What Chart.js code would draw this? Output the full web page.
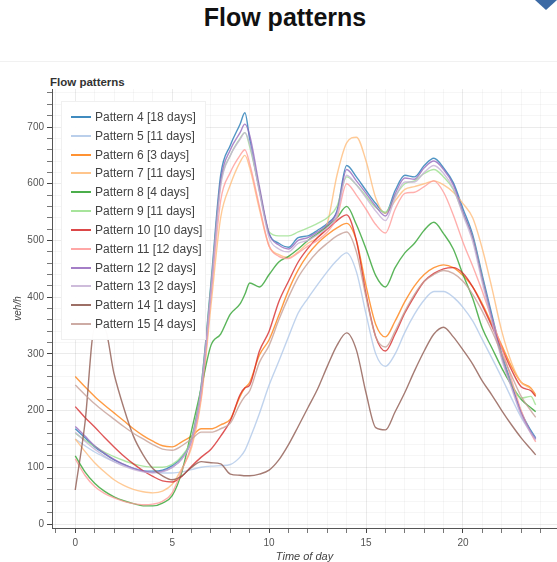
<!DOCTYPE html>
<html>
<head>
<meta charset="utf-8">
<title>Flow patterns</title>
<script src="https://cdn.jsdelivr.net/npm/chart.js@4.4.1/dist/chart.umd.min.js"></script>
<style>
  html, body { margin: 0; padding: 0; background: #fff; }
  body { width: 557px; height: 562px; position: relative; overflow: hidden; font-family: "Liberation Sans", Arial, sans-serif; }
  #chart { position: absolute; left: 0; top: 0; }
  .main-title { position: absolute; left: 0; width: 570px; top: 5px; text-align: center; font-size: 25px; line-height: 25px; font-weight: bold; color: #111; }
  .sub-title { position: absolute; left: 50px; top: 77px; font-size: 11.5px; line-height: 11px; font-weight: bold; color: #333; }
  .frame-line { position: absolute; left: 0; top: 61px; width: 557px; height: 1px; background: #f1f1f1; }
  .corner { position: absolute; left: 535px; top: 0; width: 22px; height: 10px; background: #3c6aa5; clip-path: polygon(0 0, 100% 0, 50% 100%); }
  #legend { position: absolute; left: 61px; top: 101px; width: 145px; height: 239px; background: rgba(255,255,255,0.97); border: 1px solid #f0f0f0; box-sizing: border-box; }
  .item { position: absolute; left: 0; height: 18px; line-height: 18px; font-size: 12px; color: #444; white-space: nowrap; }
  .item .swatch { position: absolute; left: 9px; top: 8px; width: 20px; height: 0; border-top: 2px solid; }
  .item .txt { position: absolute; left: 33px; top: 0; }
</style>
</head>
<body>
<div class="frame-line"></div>
<div class="corner"></div>
<div class="main-title">Flow patterns</div>
<div class="sub-title">Flow patterns</div>
<canvas id="chart" width="557" height="562"></canvas>
<div id="legend"></div>
<script>
// time of day (hours)
const hours = [0,0.5,1,1.5,2,2.5,3,3.5,4,4.5, 5,5.5,6,6.5,7,7.5,8,8.5,8.75,9,
               9.5,10,10.5,11,11.5,12,12.5,13,13.5,14, 14.5,15,15.5,16,16.5,17,17.5,18,18.5,19,
               19.5,20,20.5,21,21.5,22,22.5,23,23.5,23.75];

// veh/h per pattern
const pattern4  = [168,152,136,124,113,105,98,94,93,95, 103,118,150,245,425,615,668,705,725,678,
                   588,512,495,488,505,508,518,530,552,632, 612,588,565,548,588,615,612,632,645,628,
                   602,556,510,438,368,300,248,198,165,152];
const pattern5  = [150,138,127,118,110,104,98,94,92,90, 90,92,96,100,102,103,105,118,130,150,
                   195,245,287,330,372,398,422,445,465,478, 445,370,300,278,300,338,370,395,410,410,
                   400,382,358,325,292,258,222,188,162,150];
const pattern6  = [260,242,225,210,196,182,168,156,146,138, 136,145,155,168,168,175,185,225,240,250,
                   298,325,368,412,448,475,495,510,522,530, 500,420,352,330,358,392,420,440,452,457,
                   452,438,418,388,352,315,278,250,240,228];
const pattern7  = [150,128,108,92,78,68,61,57,55,58, 70,98,135,220,385,540,598,638,650,628,
                   555,490,475,470,480,495,505,530,615,672, 682,640,575,548,570,590,595,600,605,598,
                   585,565,540,485,415,340,285,250,238,225];
const pattern8  = [120,92,72,58,48,41,36,32,32,37, 50,92,165,240,315,335,370,388,405,425,
                   418,440,462,472,485,500,512,525,540,560, 528,485,438,418,452,478,495,518,532,512,
                   485,440,398,345,310,275,245,220,205,198];
const pattern9  = [160,148,137,127,119,112,106,102,100,100, 105,120,152,245,420,600,650,680,690,665,
                   590,515,508,508,515,522,530,540,560,612, 598,578,558,550,578,600,605,618,625,612,
                   590,548,505,432,360,295,248,222,225,210];
const pattern10 = [207,188,171,153,136,120,106,94,84,76, 74,84,102,118,132,155,182,228,240,245,
                   305,340,392,428,462,486,505,520,535,545, 500,405,330,305,335,372,402,428,442,450,
                   452,442,418,385,348,310,272,242,235,225];
const pattern11 = [115,86,66,54,46,40,36,34,35,40, 55,95,140,225,400,570,620,650,660,635,
                   560,490,472,468,478,490,500,515,540,600, 580,555,528,513,555,583,585,595,605,585,
                   545,497,455,410,360,310,255,200,160,145];
const pattern12 = [172,155,138,125,114,105,98,93,91,93, 100,115,148,240,415,605,660,690,705,685,
                   595,512,492,485,500,505,515,527,550,625, 605,583,560,543,582,610,608,628,640,625,
                   598,550,505,432,362,295,244,195,162,150];
const pattern13 = [162,146,132,120,110,102,96,92,90,92, 100,115,148,238,410,595,650,678,690,670,
                   585,505,485,480,495,500,510,522,545,615, 598,575,552,535,575,603,603,620,632,618,
                   592,545,498,425,355,290,240,192,160,148];
const pattern14 = [60,178,345,345,265,205,155,122,98,85, 78,85,100,110,108,106,88,86,85,85,
                   88,95,113,140,172,205,238,278,315,337, 307,231,170,166,198,232,270,305,335,347,
                   330,307,282,252,227,200,175,152,132,122];
const pattern15 = [245,228,212,198,185,172,160,150,140,132, 130,138,150,162,162,168,178,212,225,235,
                   285,315,360,400,435,460,480,495,508,515, 480,400,330,312,340,375,405,428,440,447,
                   442,428,405,375,340,300,262,225,200,188];

const seriesNames = ['Pattern 4 [18 days]', 'Pattern 5 [11 days]', 'Pattern 6 [3 days]', 'Pattern 7 [11 days]',
                     'Pattern 8 [4 days]', 'Pattern 9 [11 days]', 'Pattern 10 [10 days]', 'Pattern 11 [12 days]',
                     'Pattern 12 [2 days]', 'Pattern 13 [2 days]', 'Pattern 14 [1 days]', 'Pattern 15 [4 days]'];
const seriesValues = [pattern4, pattern5, pattern6, pattern7, pattern8, pattern9,
                      pattern10, pattern11, pattern12, pattern13, pattern14, pattern15];
const seriesColors = ['#1f77b4', '#aec7e8', '#ff7f0e', '#ffbb78', '#2ca02c', '#98df8a',
                      '#d62728', '#ff9896', '#9467bd', '#c5b0d5', '#8c564b', '#c49c94'];

const yMin = -7, yMax = 767;
const xMin = -1.2, xMax = 24.85;

function fade(hex, a) {
    const n = parseInt(hex.slice(1), 16);
    return `rgba(${(n >> 16) & 255},${(n >> 8) & 255},${n & 255},${a})`;
}

const datasets = seriesValues.map((vals, i) => ({
    label: seriesNames[i],
    data: vals.map((v, k) => ({ x: hours[k], y: v })),
    borderColor: fade(seriesColors[i], 0.78),
    borderWidth: 1.4,
    pointRadius: 0,
    fill: false,
    cubicInterpolationMode: 'monotone',
    order: seriesValues.length - 1 - i
}));

new Chart(document.getElementById('chart').getContext('2d'), {
    type: 'line',
    data: { datasets },
    options: {
        responsive: false,
        animation: false,
        layout: { padding: { top: 89, left: 0, right: 0, bottom: 0 } },
        plugins: { legend: { display: false }, tooltip: { enabled: false }, title: { display: false } },
        scales: {
            x: {
                type: 'linear',
                min: xMin, max: xMax,
                afterFit: s => { s.height = 34; },
                border: { color: '#555', width: 1 },
                grid: {
                    color: c => c.tick.value % 5 === 0 ? 'rgba(0,0,0,0.08)' : 'rgba(0,0,0,0.035)',
                    tickColor: c => c.tick.value % 5 === 0 ? '#444' : '#777',
                    tickLength: 5
                },
                ticks: {
                    stepSize: 1, includeBounds: false, autoSkip: false, maxRotation: 0, padding: 4,
                    color: '#555', font: { size: 10, family: 'Liberation Sans' },
                    callback: v => v % 5 === 0 ? String(v) : ''
                },
                title: { display: true, text: 'Time of day', color: '#444', padding: { top: 0, bottom: -2 },
                         font: { size: 11, style: 'italic', family: 'Liberation Sans' } }
            },
            y: {
                min: yMin, max: yMax,
                afterFit: s => { s.width = 52; },
                border: { color: '#555', width: 1 },
                grid: {
                    color: c => c.tick.value % 100 === 0 ? 'rgba(0,0,0,0.08)' : 'rgba(0,0,0,0.035)',
                    tickColor: c => c.tick.value % 100 === 0 ? '#444' : '#777',
                    tickLength: 5
                },
                ticks: {
                    stepSize: 20, includeBounds: false, autoSkip: false, padding: 3,
                    color: '#555', font: { size: 10, family: 'Liberation Sans' },
                    callback: v => v % 100 === 0 ? String(v) : ''
                },
                title: { display: true, text: 'veh/h', color: '#444', padding: { top: 12, bottom: 0 },
                         font: { size: 10, style: 'italic', family: 'Liberation Sans' } }
            }
        }
    }
});

// legend overlay inside the plot
const legend = document.getElementById('legend');
seriesNames.forEach((name, i) => {
    const row = document.createElement('div');
    row.className = 'item';
    row.style.top = (6 + i * 18.82) + 'px';
    row.innerHTML = `<span class="swatch" style="border-color:${fade(seriesColors[i], 0.85)}"></span><span class="txt">${name}</span>`;
    legend.appendChild(row);
});
</script>
</body>
</html>
